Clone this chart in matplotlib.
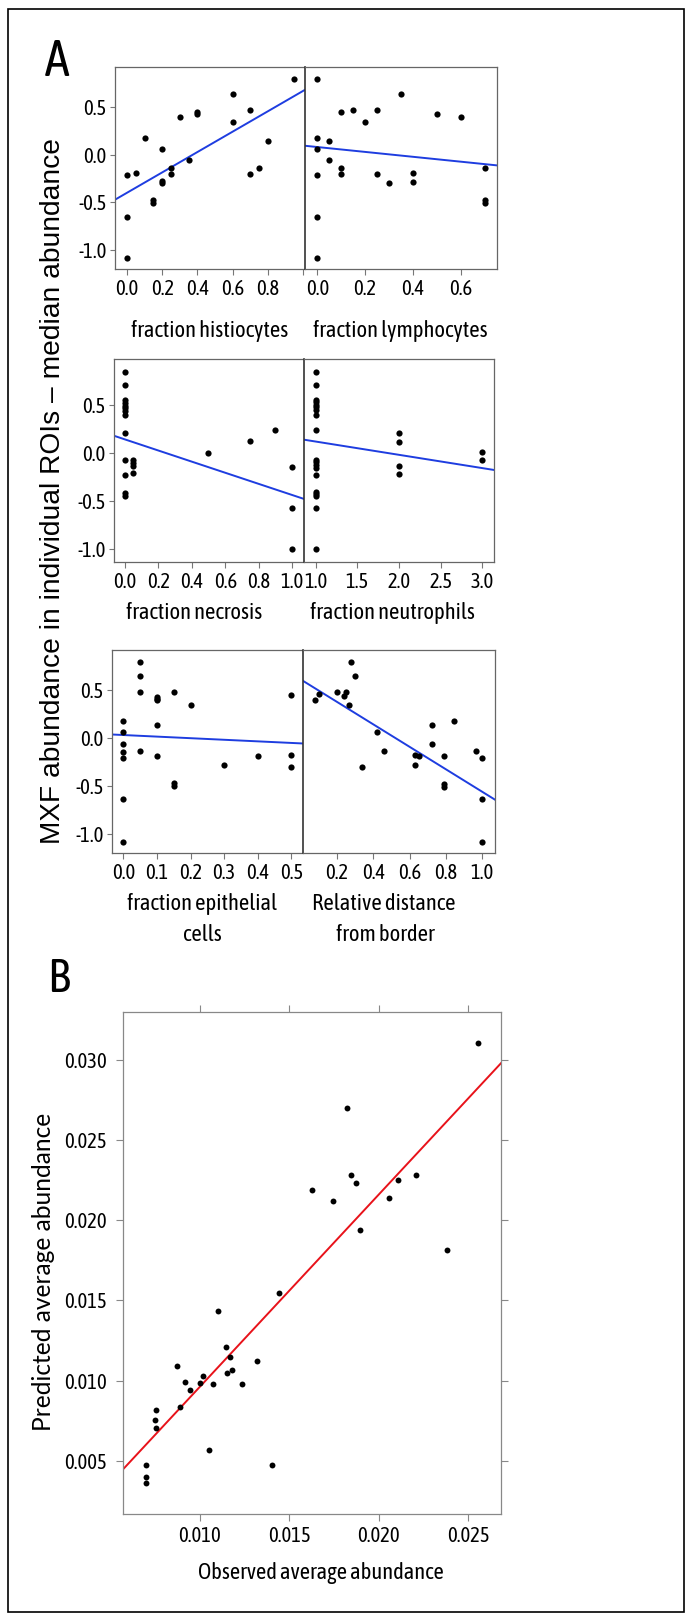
import matplotlib
matplotlib.use("Agg")
import matplotlib.pyplot as plt
from matplotlib.patches import Rectangle
import numpy as np

# ---- data ----
hist_x = [0.0, 0.05, 0.0, 0.0, 0.1, 0.15, 0.15, 0.2, 0.2, 0.2, 0.25, 0.25, 0.3, 0.35,
          0.4, 0.4, 0.6, 0.6, 0.7, 0.7, 0.75, 0.8, 0.95]
hist_y = [-0.21, -0.19, -0.65, -1.08, 0.17, -0.48, -0.51, 0.06, -0.28, -0.30, -0.14, -0.20,
          0.40, -0.06, 0.45, 0.43, 0.64, 0.34, 0.47, -0.20, -0.14, 0.14, 0.79]

lymph_x = [0.0, 0.0, 0.0, 0.0, 0.0, 0.0, 0.05, 0.05, 0.1, 0.1, 0.1, 0.15, 0.2, 0.25, 0.25,
           0.3, 0.35, 0.4, 0.4, 0.5, 0.6, 0.7, 0.7, 0.7]
lymph_y = [0.79, 0.17, 0.06, -0.21, -0.65, -1.08, 0.14, -0.06, 0.45, -0.14, -0.20, 0.47,
           0.34, 0.47, -0.20, -0.30, 0.64, -0.19, -0.29, 0.43, 0.40, -0.14, -0.48, -0.51]

necro_x = [0.0, 0.0, 0.0, 0.0, 0.0, 0.0, 0.0, 0.0, 0.0, 0.0, 0.0, 0.0, 0.0,
           0.05, 0.05, 0.05, 0.05, 0.5, 0.75, 0.9, 1.0, 1.0, 1.0]
necro_y = [0.85, 0.71, 0.55, 0.52, 0.49, 0.47, 0.44, 0.40, 0.21, -0.07, -0.23, -0.41, -0.44,
           -0.07, -0.10, -0.13, -0.21, 0.0, 0.13, 0.24, -0.14, -0.57, -1.0]

neutro_x = [1, 1, 1, 1, 1, 1, 1, 1, 1, 1, 1, 1, 1, 1, 1, 1, 1, 1, 1,
            2, 2, 2, 2, 3, 3]
neutro_y = [0.85, 0.71, 0.55, 0.53, 0.50, 0.48, 0.45, 0.40, 0.24, -0.07, -0.09, -0.12, -0.15,
            -0.23, -0.40, -0.42, -0.44, -0.57, -1.0, 0.21, 0.12, -0.13, -0.22, 0.01, -0.07]

epi_x = [0.0, 0.0, 0.0, 0.0, 0.0, 0.0, 0.0, 0.05, 0.05, 0.05, 0.05, 0.1, 0.1, 0.1, 0.1, 0.1,
         0.15, 0.15, 0.15, 0.2, 0.3, 0.4, 0.5, 0.5, 0.5]
epi_y = [0.18, 0.06, -0.06, -0.14, -0.21, -0.64, -1.08, 0.79, 0.65, 0.48, -0.13, 0.43, 0.41,
         0.40, 0.14, -0.19, 0.48, -0.47, -0.50, 0.35, -0.28, -0.19, 0.45, -0.18, -0.30]

dist_x = [0.08, 0.10, 0.20, 0.24, 0.25, 0.275, 0.265, 0.30, 0.34, 0.42, 0.46, 0.63, 0.63,
          0.65, 0.725, 0.725, 0.79, 0.79, 0.79, 0.845, 0.965, 1.0, 1.0, 1.0]
dist_y = [0.40, 0.46, 0.48, 0.44, 0.48, 0.79, 0.35, 0.65, -0.30, 0.06, -0.13, -0.28, -0.18,
          -0.19, 0.14, -0.06, -0.19, -0.48, -0.51, 0.18, -0.13, -0.21, -0.64, -1.08]

# fitted lines (intercept, slope)
hist_fit = (-0.40, 1.07)
lymph_fit = (0.08, -0.256)
necro_fit = (0.144, -0.577)
neutro_fit = (0.26, -0.138)
epi_fit = (0.032, -0.165)
dist_fit = (0.613, -1.174)

obs = [0.02554, 0.01823, 0.01629, 0.01746, 0.01847, 0.01875, 0.01897, 0.02058, 0.02108,
       0.02207, 0.02382, 0.01444, 0.01103, 0.01144, 0.0117, 0.01153, 0.01179, 0.01319,
       0.01235, 0.01076, 0.01019, 0.01002, 0.00916, 0.00946, 0.00871, 0.0089, 0.00757,
       0.0075, 0.00757, 0.01049, 0.01401, 0.0070, 0.0070, 0.0070]
pred = [0.03106, 0.02697, 0.02191, 0.02122, 0.02284, 0.02234, 0.01936, 0.02141, 0.02249,
        0.0228, 0.01813, 0.01548, 0.01433, 0.01208, 0.01146, 0.0105, 0.01069, 0.01125,
        0.00981, 0.00979, 0.01027, 0.00985, 0.00994, 0.00944, 0.01094, 0.00835, 0.00819,
        0.00758, 0.00708, 0.00571, 0.00473, 0.00473, 0.00402, 0.0036]
b_fit = (-0.00236, 1.198)

NARROW = ["Asap Condensed", "Cabin Condensed", "Lato", "DejaVu Sans"]
plt.rcParams["font.family"] = NARROW

W, H = 686, 1616
fig = plt.figure(figsize=(W / 100, H / 100), dpi=100)
rend = fig.canvas.get_renderer()


def box(x0, x1, y0, y1):
    return [x0 / W, 1 - y1 / H, (x1 - x0) / W, (y1 - y0) / H]


def ftext(x, y, s, **kw):
    return fig.text(x / W, 1 - y / H, s, **kw)


def fit_size(s, target, family=NARROW, rotation=0):
    # font size that gives the text a given length in pixels
    t = fig.text(0, 0, s, fontsize=20, family=family, rotation=rotation)
    bb = t.get_window_extent(rend)
    t.remove()
    ln = bb.height if rotation else bb.width
    return 20 * target / ln


TICK = fit_size("0.030", 42)
LAB = fit_size("fraction histiocytes", 158)
BLUE = "#1e3de0"


def panel(rect, x, y, fit, xlim, ylim, xticks, xlabels, left, yticks=None):
    ax = fig.add_axes(rect)
    ax.scatter(x, y, s=20, color="black", zorder=3, linewidths=0)
    xx = np.array(xlim)
    ax.plot(xx, fit[0] + fit[1] * xx, color=BLUE, lw=1.4, zorder=2)
    ax.set_xlim(xlim)
    ax.set_ylim(ylim)
    ax.set_xticks(xticks)
    ax.set_xticklabels(xlabels)
    ax.tick_params(axis="x", direction="out", length=4.5, width=0.8, color="#777777",
                   labelsize=TICK, pad=2.5)
    for s in ax.spines.values():
        s.set_color("#666666")
        s.set_linewidth(0.9)
    if left:
        ax.spines["right"].set_visible(False)
        ax.set_yticks(yticks)
        ax.set_yticklabels(["%.1f" % v for v in yticks])
        ax.tick_params(axis="y", direction="out", length=3.5, width=0.8, color="#777777",
                       labelsize=TICK, pad=2.5)
    else:
        ax.spines["left"].set_color("#333333")
        ax.spines["left"].set_linewidth(1.2)
        ax.set_yticks([])
    return ax


yt = [-1.0, -0.5, 0.0, 0.5]

# row 1
panel(box(115, 305, 67, 269), hist_x, hist_y, hist_fit, (-0.068, 1.01), (-1.2, 0.92),
      [0, 0.2, 0.4, 0.6, 0.8, 1.0], ["0.0", "0.2", "0.4", "0.6", "0.8", ""], True, yt)
panel(box(305, 497, 67, 269), lymph_x, lymph_y, lymph_fit, (-0.052, 0.752), (-1.2, 0.92),
      [0, 0.2, 0.4, 0.6], ["0.0", "0.2", "0.4", "0.6"], False)
# row 2
panel(box(114, 304, 359, 562), necro_x, necro_y, necro_fit, (-0.066, 1.072), (-1.13, 0.98),
      [0, 0.2, 0.4, 0.6, 0.8, 1.0], ["0.0", "0.2", "0.4", "0.6", "0.8", "1.0"], True, yt)
panel(box(304, 494, 359, 562), neutro_x, neutro_y, neutro_fit, (0.86, 3.14), (-1.13, 0.98),
      [1.0, 1.5, 2.0, 2.5, 3.0], ["1.0", "1.5", "2.0", "2.5", "3.0"], False)
# row 3
panel(box(112, 303, 650, 853), epi_x, epi_y, epi_fit, (-0.034, 0.535), (-1.2, 0.92),
      [0, 0.1, 0.2, 0.3, 0.4, 0.5], ["0.0", "0.1", "0.2", "0.3", "0.4", "0.5"], True, yt)
panel(box(303, 495, 650, 853), dist_x, dist_y, dist_fit, (0.013, 1.07), (-1.2, 0.92),
      [0.2, 0.4, 0.6, 0.8, 1.0], ["0.2", "0.4", "0.6", "0.8", "1.0"], False)

# x labels of panel A
ftext(210, 331, "fraction histiocytes", ha="center", va="center", fontsize=LAB)
ftext(400, 331, "fraction lymphocytes", ha="center", va="center", fontsize=LAB)
ftext(194, 613, "fraction necrosis", ha="center", va="center", fontsize=LAB)
ftext(392, 613, "fraction neutrophils", ha="center", va="center", fontsize=LAB)
ftext(202, 904, "fraction epithelial", ha="center", va="center", fontsize=LAB)
ftext(202, 935, "cells", ha="center", va="center", fontsize=LAB)
ftext(384, 904, "Relative distance", ha="center", va="center", fontsize=LAB)
ftext(385, 935, "from border", ha="center", va="center", fontsize=LAB)

ylab_a = "MXF abundance in individual ROIs \u2013 median abundance"
fam_a = ["Liberation Sans", "DejaVu Sans"]
ftext(53, 491, ylab_a, rotation=90, ha="center", va="center", family=fam_a,
      fontsize=fit_size(ylab_a, 703, fam_a, 90))
ftext(57, 62, "A", ha="center", va="center", fontsize=36)
ftext(58, 979, "B", ha="center", va="center", fontsize=34)

# panel B
axb = fig.add_axes(box(123, 501, 1012, 1514))
axb.scatter(obs, pred, s=18, color="black", zorder=3, linewidths=0)
bx = np.array([0.00571, 0.02683])
axb.plot(bx, b_fit[0] + b_fit[1] * bx, color="#e8121a", lw=1.4, zorder=2)
axb.set_xlim(0.00571, 0.02683)
axb.set_ylim(0.0017, 0.03297)
axb.set_xticks([0.010, 0.015, 0.020, 0.025])
axb.set_xticklabels(["0.010", "0.015", "0.020", "0.025"])
axb.set_yticks([0.005, 0.010, 0.015, 0.020, 0.025, 0.030])
axb.set_yticklabels(["0.005", "0.010", "0.015", "0.020", "0.025", "0.030"])
axb.tick_params(direction="out", length=5, width=0.8, color="#888888", labelsize=TICK,
                top=True, right=True)
axb.tick_params(axis="x", pad=4)
axb.tick_params(axis="y", pad=6.5)
for s in axb.spines.values():
    s.set_color("#888888")
    s.set_linewidth(0.9)

xlab_b = "Observed average abundance"
ylab_b = "Predicted average abundance"
ftext(321, 1573, xlab_b, ha="center", va="center", fontsize=fit_size(xlab_b, 245))
fam_b = ["Lato", "DejaVu Sans"]
ftext(44, 1272, ylab_b, rotation=90, ha="center", va="center", family=fam_b,
      fontsize=fit_size(ylab_b, 319, fam_b, 90))

# outer frame
fig.patches.append(Rectangle((8 / W, 1 - 1612 / H), 676 / W, 1603 / H, transform=fig.transFigure,
                             fill=False, edgecolor="black", lw=1.2))

fig.savefig("out.png", dpi=100)
